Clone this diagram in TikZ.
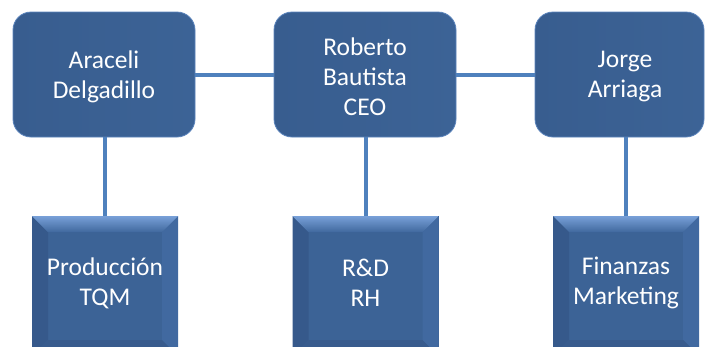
\documentclass[tikz,border=0pt]{standalone}
\usepackage{fontspec}
\setmainfont{Carlito}
\usetikzlibrary{calc}

\definecolor{boxblue}{HTML}{3C6396}
\definecolor{boxleft}{HTML}{385D8F}
\definecolor{boxedge}{HTML}{5A83BB}
\definecolor{linkblue}{HTML}{4F81BD}
\definecolor{bevtop}{HTML}{78A0D8}
\definecolor{bevtopin}{HTML}{41699E}
\definecolor{bevleft}{HTML}{36598B}
\definecolor{bevright}{HTML}{4169A0}
\definecolor{bevbot}{HTML}{385B8D}

\tikzset{
  headbox/.style={draw=boxedge, line width=0.8pt, left color=boxleft, right color=boxblue,
    rounded corners=18pt, inner sep=0pt, minimum height=125pt},
  deptbox/.style={fill=boxblue, inner sep=0pt, minimum width=146pt, minimum height=140pt,
    path picture={
      \coordinate (sw) at (path picture bounding box.south west);
      \coordinate (ne) at (path picture bounding box.north east);
      \coordinate (nw) at (sw |- ne);
      \coordinate (se) at (ne |- sw);
      \fill[bevleft] (sw) -- (nw) -- ($(nw)+(16pt,-16pt)$) -- ($(sw)+(16pt,16pt)$) -- cycle;
      \fill[bevright] (se) -- (ne) -- ($(ne)+(-16pt,-16pt)$) -- ($(se)+(-16pt,16pt)$) -- cycle;
      \fill[bevbot] (sw) -- (se) -- ($(se)+(-16pt,16pt)$) -- ($(sw)+(16pt,16pt)$) -- cycle;
      \shade[top color=bevtop, bottom color=bevtopin] (nw) -- (ne) -- ($(ne)+(-16pt,-16pt)$) -- ($(nw)+(16pt,-16pt)$) -- cycle;
    }},
  nametext/.style={text=white, font=\fontsize{25.5}{30}\selectfont, align=center, inner sep=0pt},
  link/.style={draw=linkblue, line width=4pt},
}

\begin{document}
\begin{tikzpicture}[x=1pt, y=-1pt]
  \useasboundingbox (0,0) rectangle (706,346);

  % management row
  \node[headbox, minimum width=182pt] (b1) at (104,74.5) {};
  \node[headbox, minimum width=182pt] (b2) at (365,74.5) {};
  \node[headbox, minimum width=169pt] (b3) at (619.5,74.5) {};

  % department row
  \node[deptbox] (p1) at (105,286) {};
  \node[deptbox] (p2) at (365.5,286) {};
  \node[deptbox] (p3) at (626,286) {};

  % connectors
  \draw[link] (b1.east) -- (b2.west);
  \draw[link] (b2.east) -- (b3.west);
  \draw[link] (p1.north) -- (p1.north |- b1.south);
  \draw[link] (p2.north) -- (p2.north |- b2.south);
  \draw[link] (p3.north) -- (p3.north |- b3.south);

  % names
  \node[nametext] (t1) at (104,77) {Araceli\\Delgadillo};
  \node[nametext] (t2) at (365,77) {Roberto\\Bautista\\CEO};
  \node[nametext] (t3) at (625,77) {Jorge\\Arriaga};
  \node[nametext] (d1) at (105,283) {Producción\\TQM};
  \node[nametext] (d2) at (365.5,283) {R\&D\\RH};
  \node[nametext] (d3) at (626,283) {Finanzas\\Marketing};
\end{tikzpicture}
\end{document}
